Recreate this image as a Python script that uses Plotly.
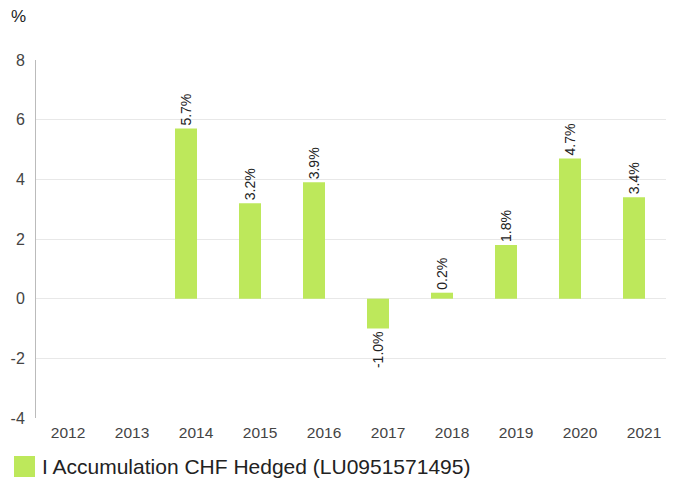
import plotly.graph_objects as go

years = ["2012", "2013", "2014", "2015", "2016", "2017", "2018", "2019", "2020", "2021"]
returns = [None, None, 5.7, 3.2, 3.9, -1.0, 0.2, 1.8, 4.7, 3.4]
series_name = "I Accumulation CHF Hedged (LU0951571495)"
bar_color = "#BDE85B"
y_ticks = [-4, -2, 0, 2, 4, 6, 8]
y_tick_labels = ["-4", "-2", "0", "2", "4", "6", "8"]

labels = ["" if v is None else f"{v:.1f}%" for v in returns]

PW, PH = 638, 358  # plot area size in px

fig = go.Figure()
fig.add_trace(go.Bar(
    x=years, y=returns, name=series_name,
    marker=dict(color=bar_color, line=dict(width=0)),
    width=22/64, offset=-21/64,
    text=labels, textposition="outside", textangle=-90,
    constraintext="none",
    textfont=dict(family="Liberation Sans, Arial, sans-serif", size=14, color="#222"),
    cliponaxis=False,
    showlegend=False,
))

# page body has an 8px margin, so the figure is sized/offset to compensate
fig.update_layout(
    width=666, height=473,
    margin=dict(l=28, r=0, t=52, b=63, autoexpand=False),
    paper_bgcolor="white", plot_bgcolor="white",
    font=dict(family="Liberation Sans, Arial, sans-serif", color="#444"),
    uniformtext=dict(minsize=14, mode="show"),
    xaxis=dict(
        type="category", showgrid=False, zeroline=False, showline=False,
        range=[-0.5, -0.5 + PW/64],
        ticks="", tickfont=dict(size=15.5, color="#444"), automargin=False,
        ticklabelstandoff=3,
    ),
    yaxis=dict(
        range=[-4, 8], tickvals=y_ticks, ticktext=y_tick_labels,
        showgrid=True, gridcolor="#e8e8e8", gridwidth=1,
        zeroline=True, zerolinecolor="#e8e8e8", zerolinewidth=1,
        showline=True, linecolor="#bbbbbb", linewidth=1,
        ticks="", tickfont=dict(size=16, color="#444"),
        ticklabelstandoff=7, automargin=False,
    ),
)

fig.add_annotation(
    text="%", xref="paper", yref="paper", x=-27/PW, y=1 + 44/PH,
    xanchor="left", yanchor="middle", showarrow=False,
    font=dict(size=17, color="#222"),
)

# legend drawn below the plot
fig.add_shape(
    type="rect", xref="paper", yref="paper",
    x0=-22/PW, x1=-1/PW, y0=-38/PH, y1=-59/PH,
    fillcolor=bar_color, line=dict(width=0),
)
fig.add_annotation(
    text=series_name, xref="paper", yref="paper",
    x=4/PW, y=-49/PH, xanchor="left", yanchor="middle",
    showarrow=False, font=dict(size=21, color="#222"),
)

fig.write_html("out.html")
